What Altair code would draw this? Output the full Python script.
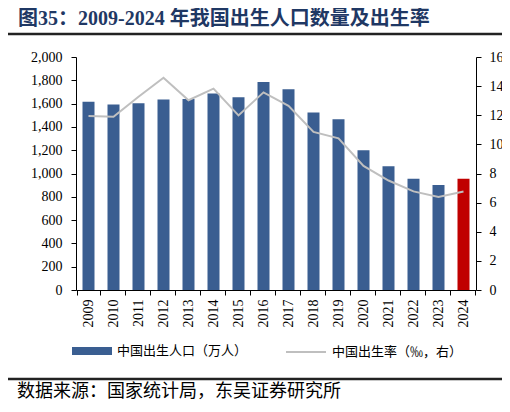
import altair as alt
import pandas as pd

# 数据（万人 / ‰）
years = [str(y) for y in range(2009, 2025)]
births = [1615, 1592, 1604, 1635, 1640, 1687, 1655, 1786, 1723, 1523, 1465, 1200, 1062, 956, 902, 954]
rates = [11.95, 11.90, 13.27, 14.57, 13.03, 13.83, 11.99, 13.57, 12.64, 10.86, 10.41, 8.52, 7.52, 6.77, 6.39, 6.77]
left_ticks = list(range(0, 2001, 200))
right_ticks = list(range(0, 17, 2))

bar_name = "中国出生人口（万人）"
line_name = "中国出生率（‰，右）"
title_text = "图35：2009-2024 年我国出生人口数量及出生率"
source_text = "数据来源：国家统计局，东吴证券研究所"

SERIF = "Liberation Serif, Noto Sans CJK SC"
CJK = "Noto Sans CJK SC"

df = pd.DataFrame({"year": years, "births": births, "rate": rates})
df["bseries"] = bar_name
df["lseries"] = line_name

base = alt.Chart(df)
x_enc = alt.X(
    "year:O",
    title=None,
    axis=alt.Axis(labelAngle=270, tickBand="extent", labelPadding=4),
)

bars = base.mark_bar(size=12).encode(
    x=x_enc,
    y=alt.Y(
        "births:Q",
        title=None,
        scale=alt.Scale(domain=[0, 2000]),
        axis=alt.Axis(values=left_ticks, format=",d", labelPadding=9),
    ),
    color=alt.condition(
        alt.datum.year == "2024",
        alt.value("#C00000"),
        alt.Color(
            "bseries:N",
            scale=alt.Scale(range=["#3A5E91"]),
            legend=alt.Legend(
                orient="none", legendX=-4, legendY=274, title=None,
                symbolType="M-1,-0.2H1V0.2H-1Z", symbolSize=1600,
                symbolStrokeWidth=0, labelFont=CJK, labelFontSize=13,
                labelOffset=5, padding=0,
            ),
        ),
    ),
)

line = base.mark_line(strokeWidth=2).encode(
    x=x_enc,
    y=alt.Y(
        "rate:Q",
        title=None,
        scale=alt.Scale(domain=[0, 16]),
        axis=alt.Axis(orient="right", values=right_ticks, labelPadding=8),
    ),
    stroke=alt.Stroke(
        "lseries:N",
        scale=alt.Scale(range=["#BFBFBF"]),
        legend=alt.Legend(
            orient="none", legendX=209, legendY=274, title=None,
            symbolType="stroke", symbolSize=1600, symbolStrokeWidth=2,
            labelFont=CJK, labelFontSize=13, labelOffset=5, padding=0,
        ),
    ),
)

deco = alt.Chart(pd.DataFrame({"k": [0]}))
top_rule = deco.mark_rule(color="#222222", strokeWidth=2.5).encode(
    x=alt.value(-71), x2=alt.value(427), y=alt.value(-23)
)
bottom_rule = deco.mark_rule(color="#222222", strokeWidth=2.5).encode(
    x=alt.value(-71), x2=alt.value(427), y=alt.value(322)
)
source = deco.mark_text(
    align="left", baseline="middle", font=CJK, fontSize=18, color="#000000"
).encode(x=alt.value(-59), y=alt.value(335), text=alt.value(source_text))

chart = (
    alt.layer(bars, line, top_rule, bottom_rule, source)
    .resolve_scale(y="independent", color="independent")
    .properties(
        width=400,
        height=233,
        autosize="none",
        padding={"left": 68, "top": 49, "right": 26, "bottom": 114},
        title=alt.Title(
            title_text, anchor="start", frame="group", dx=-58,
            font=SERIF, fontSize=20, fontWeight="bold", color="#1F3864",
            offset=4,
        ),
    )
    .configure_axis(
        grid=False, domainColor="#000000", tickColor="#000000", tickSize=5,
        labelFont="Liberation Serif", labelFontSize=14, labelColor="#000000",
    )
    .configure_view(stroke=None)
)

chart.save("out.html", embed_options={"renderer": "svg", "actions": False})
